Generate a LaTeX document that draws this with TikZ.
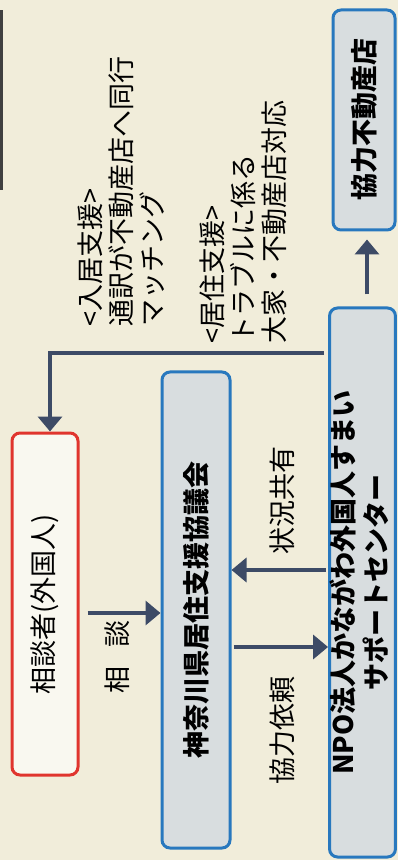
\documentclass[tikz,border=0pt]{standalone}
\usepackage{fontspec}
\setmainfont{Noto Sans CJK JP}
\usepackage{graphicx}
\usetikzlibrary{positioning,arrows.meta}
\definecolor{paper}{HTML}{F1EDDA}
\definecolor{boxfill}{HTML}{D8DDDF}
\definecolor{boxline}{HTML}{2878BE}
\definecolor{redline}{HTML}{E0352E}
\definecolor{arrowcol}{HTML}{3D4B66}
\newcommand*{\lbl}{\fontsize{13.5pt}{15.5pt}\selectfont}
\tikzset{>={Triangle[width=12pt,length=7.5pt]},
  box/.style={draw=boxline,line width=1.5pt,fill=boxfill,rounded corners=4pt,inner sep=0pt,font=\lbl\bfseries},
  arr/.style={->,draw=arrowcol,line width=1.8pt},
  note/.style={rotate=90,inner sep=0pt}}

\begin{document}
\begin{tikzpicture}[x=0.5pt,y=-0.5pt,font=\lbl]
\useasboundingbox (0,0) rectangle (398,860);
\fill[paper] (0,0) rectangle (398,860);
\fill[black!75] (0,10) rectangle (3,190);

% Draw the four boxes
\node[box,minimum width=31pt,minimum height=110pt] (shop) at (364,120) {\rotatebox{90}{協力不動産店}};
\node[box,minimum width=32.5pt,minimum height=274.5pt] (npo) at (362.5,582.5)
  {\rotatebox{90}{\begin{tabular}{@{}c@{}}NPO法人かながわ外国人すまい\\サポートセンター\end{tabular}}};
\node[box,minimum width=34pt,minimum height=238pt] (council) at (196,610) {\rotatebox{90}{神奈川県居住支援協議会}};
\node[box,draw=redline,fill=white!60!paper,font=\lbl,minimum width=33pt,minimum height=171pt] (client) at (45,604) {\rotatebox{90}{相談者(外国人)}};

% Support notes
\node[note,align=left,anchor=west] (move) at (121,327) {<入居支援>\\通訳が不動産店へ同行\\マッチング};
\node[note,align=left,anchor=west] (live) at (243,344) {<居住支援>\\トラブルに係る\\大家・不動産店対応};

% Arrow labels
\node[note] (talk) at (117,657) {相\hspace{.7em}談};
\node[note] (share) at (282,500) {状況共有};
\node[note] (ask) at (282,730) {協力依頼};

% Draw connectors
\draw[arr,shorten <=4pt] (client.east |- 0,613) -- (council.west |- 0,613);
\draw[arr,shorten <=1pt] (npo.west |- 0,570) -- (council.east |- 0,570);
\draw[arr,shorten <=1pt] (council.east |- 0,647) -- (npo.west |- 0,647);
\draw[arr,shorten <=6pt,shorten >=4pt] (npo.north -| 367,0) -- (shop.south -| 367,0);
\draw[arr,shorten <=2pt] (npo.west |- 0,353) -| ([xshift=2.5pt]client.north);
\end{tikzpicture}
\end{document}
